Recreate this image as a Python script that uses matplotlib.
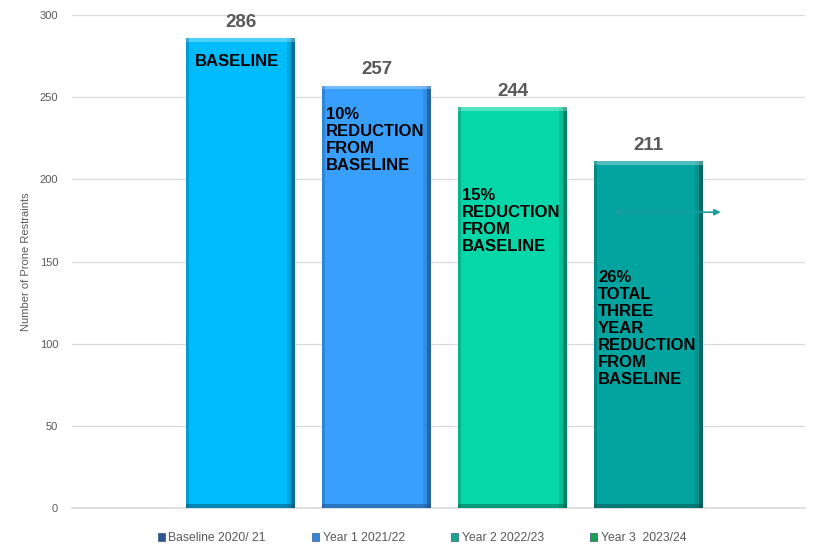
import matplotlib

matplotlib.use("Agg")
import matplotlib.pyplot as plt
from matplotlib.patches import Rectangle, Patch
import numpy as np

plt.rcParams["font.family"] = ["Liberation Sans", "DejaVu Sans"]

periods = ["Baseline 2020/ 21", "Year 1 2021/22", "Year 2 2022/23", "Year 3  2023/24"]
restraints = [286, 257, 244, 211]
bar_colors = ["#00BCFC", "#389FFD", "#06D7A9", "#03A3A0"]
edge_dark = ["#0A4F6E", "#1D4E86", "#06604A", "#05504E"]
legend_colors = ["#2F5597", "#3B86D6", "#13A98A", "#16A052"]
inner_labels = [
    "BASELINE",
    "10%\nREDUCTION\nFROM\nBASELINE",
    "15%\nREDUCTION\nFROM\nBASELINE",
    "26%\nTOTAL\nTHREE\nYEAR\nREDUCTION\nFROM\nBASELINE",
]
inner_label_tops = [276, 244, 195, 145]
inner_label_offsets = [0.08, 0.035, 0.035, 0.035]

fig = plt.figure(figsize=(8.19, 5.52), dpi=100)
ax = fig.add_axes([0.088, 0.0797, 0.895, 0.8931])

x = np.arange(len(restraints))
bars = ax.bar(x, restraints, width=0.8, color=bar_colors, zorder=2)

# bevel: dark right/bottom strips, light top strip
for b, dark in zip(bars, edge_dark):
    bx, bw, bh = b.get_x(), b.get_width(), b.get_height()
    sw = bw * 0.035
    sh = 2.2
    ax.add_patch(Rectangle((bx + bw - sw, 0), sw, bh, color=dark, alpha=0.7, zorder=3, lw=0))
    ax.add_patch(Rectangle((bx + bw - 2 * sw, 0), sw, bh, color=dark, alpha=0.2, zorder=3, lw=0))
    ax.add_patch(Rectangle((bx, 0), bw, sh, color=dark, alpha=0.5, zorder=3, lw=0))
    ax.add_patch(Rectangle((bx, bh - sh), bw, sh, color="white", alpha=0.3, zorder=3, lw=0))
    ax.add_patch(Rectangle((bx, 0), sw * 0.6, bh, color=dark, alpha=0.3, zorder=3, lw=0))

for xi, v in zip(x, restraints):
    ax.text(xi, v + 4.5, str(v), ha="center", va="bottom", fontsize=13.5,
            fontweight="bold", color="#595959", zorder=4)

for b, lab, top, off in zip(bars, inner_labels, inner_label_tops, inner_label_offsets):
    ax.text(b.get_x() + b.get_width() * off, top, lab, ha="left", va="top",
            fontsize=12, fontweight="bold", color="black", linespacing=1.17, zorder=4)

ax.annotate("", xy=(3.55, 180), xytext=(2.72, 180),
            arrowprops=dict(arrowstyle="<|-|>", color="#1A9E9E", lw=1.2,
                            mutation_scale=9), zorder=5)

ax.set_xlim(-1.24, 4.15)
ax.set_ylim(0, 300)
ax.set_yticks(range(0, 301, 50))
ax.set_xticks([])
ax.tick_params(axis="y", length=0, labelsize=8, labelcolor="#595959", pad=10)
ax.yaxis.grid(True, color="#D9D9D9", lw=0.9, zorder=0)
ax.axhline(0, color="#D9D9D9", lw=1.2, zorder=1, clip_on=False)
ax.set_axisbelow(True)
for s in ax.spines.values():
    s.set_visible(False)
ax.set_ylabel("Number of Prone Restraints", fontsize=8, color="#595959", labelpad=6.5)

handles = [Patch(facecolor=c, edgecolor="#1F3F66", lw=0.4) for c in legend_colors]
fig.legend(handles, periods, loc="center", bbox_to_anchor=(0.515, 0.025), ncol=4,
           frameon=False, fontsize=8.7, labelcolor="#595959", handlelength=0.6,
           handleheight=0.6, handletextpad=0.3, columnspacing=3.8)

fig.savefig("out.png", dpi=100)
